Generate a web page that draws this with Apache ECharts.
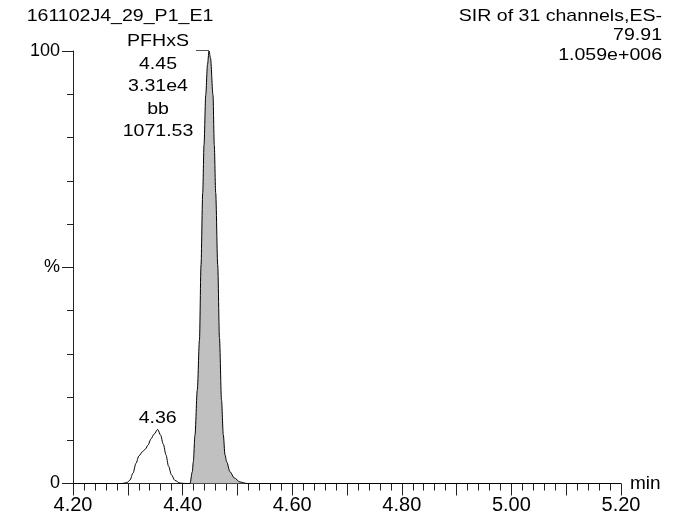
<!DOCTYPE html>
<html>
<head>
<meta charset="utf-8">
<script src="https://cdn.jsdelivr.net/npm/echarts@6/dist/echarts.min.js"></script>
<style>
  html, body { margin: 0; padding: 0; background: #fff; }
  #chart { width: 687px; height: 521px; }
</style>
</head>
<body>
<div id="chart"></div>
<script>
// ---- data ----
const traceTime = [
  4.2000, 4.2894, 4.2985, 4.3040, 4.3095, 4.3150, 4.3204, 4.3272, 4.3323, 4.3369,
  4.3423, 4.3478, 4.3546, 4.3597, 4.3648, 4.3697, 4.3743, 4.3797, 4.3861, 4.3953,
  4.4044, 4.4135, 4.4177, 4.4195, 4.4226, 4.4268, 4.4308, 4.4336, 4.4367, 4.4391,
  4.4422, 4.4454, 4.4482, 4.4509, 4.4555, 4.4578, 4.4604, 4.4641, 4.4673, 4.4710,
  4.4743, 4.4774, 4.4805, 4.4865, 4.4943, 4.5047, 4.5175, 5.2000
];
const traceIntensity = [
  0, 0, 0.2, 0.8, 2.4, 4.7, 6.4, 7.4, 8.0, 8.9,
  10.3, 11.4, 12.5, 11.2, 9.1, 6.6, 4.0, 2.0, 0.7, 0.1,
  0, 0, 2.7, 5.0, 11.2, 21.6, 33.2, 50.5, 67.2, 78.3,
  89.8, 96.8, 100, 98.4, 89.8, 78.3, 67.2, 50.5, 33.6, 19.3,
  11.2, 6.6, 5.0, 2.7, 1.3, 0.35, 0, 0
];
// integrated peak window (filled in grey)
const mainPeakStart = 4.4135;
const mainPeakEnd = 4.5175;
const mainPeakApex = [4.4482, 100];
const minorPeakApex = [4.3546, 12.5];

const xTickValues = [4.2, 5.2, 0.1];          // min, max, step
const yTickValues = [0, 100, 50];              // min, max, step
const yTickLabels = { 0: '0', 50: '%', 100: '100' };
const xAxisName = 'min';

const headerLeft = '161102J4_29_P1_E1';
const headerRight = ['SIR of 31 channels,ES-', '79.91', '1.059e+006'];
const mainPeakLabels = ['PFHxS', '4.45', '3.31e4', 'bb', '1071.53'];
const minorPeakLabel = '4.36';

// ---- build chart ----
const FONT = 'Liberation Sans, Arial, Helvetica, sans-serif';
const traceData = traceTime.map((t, i) => [t, traceIntensity[i]]);
const peakData = traceData.filter(d => d[0] >= mainPeakStart && d[0] <= mainPeakEnd);

const axisColor = '#222';
const chart = echarts.init(document.getElementById('chart'), null, { renderer: 'canvas' });

const option = {
  animation: false,
  backgroundColor: '#fff',
  grid: { left: 73, right: 66, top: 51, bottom: 37.5, containLabel: false },
  xAxis: {
    type: 'value',
    min: xTickValues[0], max: xTickValues[1], interval: xTickValues[2],
    name: xAxisName, nameLocation: 'end', nameGap: 9,
    nameTextStyle: { fontSize: 19, color: '#000', fontFamily: FONT, verticalAlign: 'middle' },
    axisLine: { show: true, lineStyle: { color: axisColor, width: 1 } },
    axisTick: { show: true, length: 12, lineStyle: { color: axisColor, width: 1 } },
    minorTick: { show: true, splitNumber: 5, length: 7, lineStyle: { color: axisColor, width: 1 } },
    splitLine: { show: false },
    minorSplitLine: { show: false },
    axisLabel: {
      fontSize: 20, color: '#000', fontFamily: FONT, margin: 12,
      formatter: v => (Math.round(v * 10) % 2 === 0 ? v.toFixed(2) : '')
    }
  },
  yAxis: {
    type: 'value',
    min: yTickValues[0], max: yTickValues[1], interval: yTickValues[2],
    axisLine: { show: true, lineStyle: { color: axisColor, width: 1 } },
    axisTick: { show: true, length: 11, lineStyle: { color: axisColor, width: 1 } },
    minorTick: { show: true, splitNumber: 5, length: 6, lineStyle: { color: axisColor, width: 1 } },
    splitLine: { show: false },
    minorSplitLine: { show: false },
    axisLabel: {
      fontSize: 18, color: '#000', fontFamily: FONT, margin: 13,
      formatter: v => (yTickLabels[v] !== undefined ? yTickLabels[v] : '')
    }
  },
  series: [
    {
      type: 'line', data: peakData, showSymbol: false, smooth: 0.3, smoothMonotone: 'x',
      lineStyle: { width: 0 },
      areaStyle: { color: '#c0c0c0', opacity: 1 },
      z: 2, silent: true
    },
    {
      type: 'line', data: traceData, showSymbol: false, smooth: 0.3, smoothMonotone: 'x',
      lineStyle: { color: '#000', width: 1 },
      z: 3, silent: true
    }
  ]
};
chart.setOption(option);

// ---- annotations anchored to data positions ----
const apexPx = chart.convertToPixel({ gridIndex: 0 }, mainPeakApex);
const minorPx = chart.convertToPixel({ gridIndex: 0 }, minorPeakApex);
const SX = 1.15;
function txt(text, x, y, align) {
  return {
    type: 'text', x: x, y: y, scaleX: SX, z: 10, silent: true,
    style: { text: text, fill: '#000', font: '17px ' + FONT, textAlign: align || 'center', textVerticalAlign: 'middle' }
  };
}
const graphics = [];
graphics.push(txt(headerLeft, 120, 16, 'center'));
headerRight.forEach((s, i) => graphics.push(txt(s, 662, 16 + i * 19.8, 'right')));
mainPeakLabels.forEach((s, i) => graphics.push(txt(s, apexPx[0] - 51, apexPx[1] - 9.5 + i * 22.5, 'center')));
graphics.push({
  type: 'line', silent: true, z: 10,
  shape: { x1: apexPx[0] - 13, y1: apexPx[1] - 0.5, x2: apexPx[0], y2: apexPx[1] - 0.5 },
  style: { stroke: '#555', lineWidth: 1 }
});
graphics.push(txt(minorPeakLabel, minorPx[0], minorPx[1] - 11, 'center'));
chart.setOption({ graphic: graphics });
</script>
</body>
</html>
